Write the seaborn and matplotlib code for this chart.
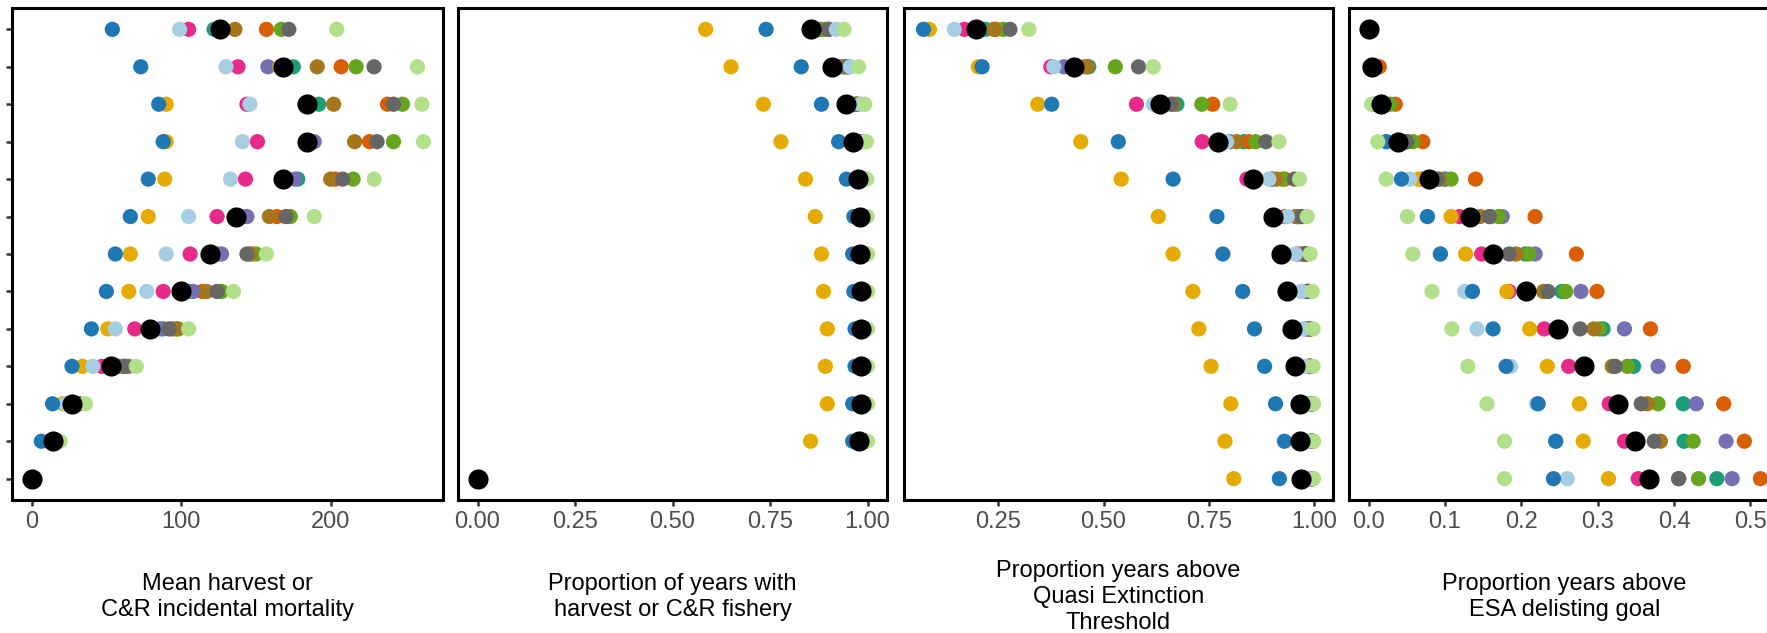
import numpy as np
import pandas as pd
import seaborn as sns
from matplotlib import pyplot as plt

sns.set_style("white")
plt.rcParams['font.family'] = ['Liberation Sans', 'DejaVu Sans']

# one row per scenario (top to bottom), columns follow `series`
series = ["teal", "orange", "purple", "pink", "green", "gold",
          "brown", "gray", "lightblue", "blue", "lightgreen"]
colors = ["#1b9e77", "#d95f02", "#7570b3", "#e7298a", "#66a61e", "#e6ab02",
          "#a6761d", "#666666", "#a6cee3", "#1f78b4", "#b2df8a"]
rows = list(range(13))

harvest = [
    [122, 157, 124, 105, 167, 125, 136, 172, 99, 54, 204],
    [175, 207, 158, 138, 217, 166, 191, 229, 130, 73, 258],
    [192, 238, 183, 144, 248, 90, 202, 242, 146, 85, 261],
    [185, 226, 189, 151, 242, 90, 216, 231, 141, 88, 262],
    [178, 203, 176, 143, 215, 89, 200, 208, 133, 78, 229],
    [140, 164, 144, 124, 173, 78, 159, 170, 105, 66, 189],
    [125, 147, 127, 106, 150, 66, 146, 144, 90, 56, 157],
    [105, 114, 108, 88, 127, 65, 117, 124, 77, 50, 135],
    [88, 94, 86, 69, 98, 51, 97, 92, 56, 40, 105],
    [58, 62, 57, 47, 65, 34, 61, 63, 41, 27, 70],
    [30, 31, 29, 24, 32, 21, 31, 31, 23, 14, 36],
    [16, 16, 15, 14, 17, 12, 16, 16, 12, 6.5, 19],
    [0, 0, 0, 0, 0, 0, 0, 0, 0, 0, 0],
]
harvest_mean = [126, 168, 184, 184, 168, 137, 119, 100, 79, 53, 27, 14, 0]

fishery = [
    [0.88, 0.90, 0.87, 0.86, 0.89, 0.585, 0.87, 0.90, 0.92, 0.74, 0.94],
    [0.93, 0.94, 0.92, 0.92, 0.95, 0.65, 0.94, 0.95, 0.956, 0.83, 0.977],
    [0.96, 0.97, 0.95, 0.95, 0.975, 0.733, 0.97, 0.975, 0.982, 0.882, 0.993],
    [0.975, 0.98, 0.97, 0.97, 0.985, 0.778, 0.98, 0.985, 0.99, 0.926, 0.997],
    [0.985, 0.99, 0.98, 0.98, 0.99, 0.841, 0.99, 0.99, 0.993, 0.946, 0.998],
    [0.99, 0.99, 0.99, 0.99, 0.995, 0.866, 0.99, 0.995, 0.995, 0.965, 0.999],
    [0.99, 0.995, 0.99, 0.99, 0.995, 0.882, 0.995, 0.995, 0.997, 0.962, 1.0],
    [0.99, 0.995, 0.99, 0.99, 0.995, 0.887, 0.995, 0.995, 0.997, 0.965, 1.0],
    [0.995, 0.995, 0.99, 0.99, 0.995, 0.897, 0.995, 0.995, 0.997, 0.968, 1.0],
    [0.995, 0.995, 0.99, 0.99, 0.995, 0.892, 0.995, 0.995, 0.997, 0.968, 1.0],
    [0.995, 0.995, 0.99, 0.99, 0.995, 0.897, 0.995, 0.995, 0.997, 0.962, 1.0],
    [0.99, 0.995, 0.99, 0.99, 0.995, 0.854, 0.995, 0.995, 0.997, 0.962, 1.0],
    [0, 0, 0, 0, 0, 0, 0, 0, 0, 0, 0],
]
fishery_mean = [0.854, 0.908, 0.946, 0.964, 0.975, 0.981, 0.982, 0.983,
                0.984, 0.984, 0.983, 0.979, 0]

qet = [
    [0.22, 0.245, 0.20, 0.17, 0.262, 0.087, 0.24, 0.278, 0.146, 0.073, 0.323],
    [0.465, 0.455, 0.406, 0.375, 0.528, 0.203, 0.461, 0.583, 0.382, 0.212, 0.618],
    [0.674, 0.759, 0.625, 0.578, 0.733, 0.344, 0.665, 0.66, 0.618, 0.377, 0.80],
    [0.833, 0.845, 0.80, 0.734, 0.861, 0.446, 0.816, 0.885, 0.792, 0.535, 0.916],
    [0.90, 0.93, 0.90, 0.84, 0.924, 0.542, 0.91, 0.953, 0.892, 0.665, 0.965],
    [0.96, 0.965, 0.955, 0.93, 0.965, 0.63, 0.96, 0.97, 0.936, 0.769, 0.983],
    [0.975, 0.98, 0.97, 0.96, 0.98, 0.665, 0.975, 0.98, 0.955, 0.783, 0.99],
    [0.985, 0.985, 0.98, 0.97, 0.985, 0.712, 0.985, 0.985, 0.97, 0.83, 0.995],
    [0.99, 0.99, 0.985, 0.98, 0.99, 0.726, 0.99, 0.99, 0.975, 0.858, 0.997],
    [0.99, 0.99, 0.99, 0.985, 0.99, 0.755, 0.99, 0.99, 0.98, 0.882, 0.997],
    [0.995, 0.995, 0.99, 0.99, 0.995, 0.802, 0.995, 0.995, 0.985, 0.908, 0.998],
    [0.995, 0.995, 0.99, 0.99, 0.995, 0.788, 0.995, 0.995, 0.985, 0.929, 0.998],
    [0.995, 0.995, 0.99, 0.99, 0.995, 0.809, 0.995, 0.995, 0.985, 0.917, 0.998],
]
qet_mean = [0.198, 0.431, 0.634, 0.771, 0.854, 0.903, 0.920, 0.936,
            0.946, 0.955, 0.965, 0.967, 0.969]

esa = [
    [0, 0, 0, 0, 0, 0, 0, 0, 0, 0, 0],
    [0.003, 0.014, 0.003, 0.003, 0.004, 0.002, 0.003, 0.003, 0.002, 0.002, 0.001],
    [0.02, 0.035, 0.02, 0.015, 0.028, 0.012, 0.02, 0.02, 0.008, 0.006, 0.004],
    [0.05, 0.071, 0.05, 0.035, 0.058, 0.035, 0.048, 0.05, 0.025, 0.023, 0.012],
    [0.10, 0.14, 0.10, 0.07, 0.108, 0.065, 0.093, 0.09, 0.054, 0.043, 0.023],
    [0.16, 0.218, 0.175, 0.119, 0.17, 0.108, 0.146, 0.158, 0.077, 0.077, 0.051],
    [0.205, 0.272, 0.218, 0.148, 0.21, 0.127, 0.193, 0.184, 0.094, 0.094, 0.058],
    [0.253, 0.299, 0.278, 0.184, 0.258, 0.181, 0.229, 0.235, 0.126, 0.136, 0.083],
    [0.307, 0.369, 0.335, 0.23, 0.302, 0.211, 0.295, 0.277, 0.142, 0.163, 0.109],
    [0.347, 0.412, 0.379, 0.262, 0.339, 0.234, 0.319, 0.323, 0.186, 0.18, 0.13],
    [0.412, 0.465, 0.429, 0.315, 0.379, 0.276, 0.365, 0.357, 0.22, 0.222, 0.155],
    [0.413, 0.492, 0.468, 0.335, 0.425, 0.281, 0.382, 0.374, 0.245, 0.245, 0.178],
    [0.456, 0.513, 0.476, 0.353, 0.432, 0.314, 0.406, 0.406, 0.26, 0.242, 0.178],
]
esa_mean = [0, 0.004, 0.016, 0.038, 0.079, 0.133, 0.163, 0.206,
            0.248, 0.282, 0.326, 0.349, 0.367]

labels = ["Mean harvest or\nC&R incidental mortality",
          "Proportion of years with\nharvest or C&R fishery",
          "Proportion years above\nQuasi Extinction\nThreshold",
          "Proportion years above\nESA delisting goal"]
xticks = [[0, 100, 200],
          [0, 0.25, 0.5, 0.75, 1.0],
          [0.25, 0.5, 0.75, 1.0],
          [0, 0.1, 0.2, 0.3, 0.4, 0.5]]
xticklabels = [["0", "100", "200"],
               ["0.00", "0.25", "0.50", "0.75", "1.00"],
               ["0.25", "0.50", "0.75", "1.00"],
               ["0.0", "0.1", "0.2", "0.3", "0.4", "0.5"]]

panels = [(harvest, harvest_mean), (fishery, fishery_mean),
          (qet, qet_mean), (esa, esa_mean)]

fig = plt.figure(figsize=(17.67, 6.33), dpi=100)
W, H = 1767.0, 633.0
# axes boxes in pixels: left, right (top 8, bottom 500)
boxes = [(12, 443), (458, 887), (904, 1333), (1349, 1780)]

for i, (vals, mean) in enumerate(panels):
    l, r = boxes[i]
    ax = fig.add_axes([l / W, 1 - 500 / H, (r - l) / W, 492 / H])

    df = pd.DataFrame(vals, columns=series)
    df["row"] = rows
    df = df.melt(id_vars="row", var_name="series", value_name="value")
    # draw series in palette order so later ones sit on top
    df["series"] = pd.Categorical(df["series"], categories=series, ordered=True)
    df = df.sort_values(["series", "row"])

    sns.scatterplot(data=df, x="value", y="row", hue="series",
                    hue_order=series, palette=colors, s=120, linewidth=0,
                    legend=False, ax=ax, zorder=2)
    sns.scatterplot(x=mean, y=rows, color="black", s=210, linewidth=0,
                    ax=ax, zorder=3)

    ax.margins(x=0.05)
    ax.set_ylim(12.57, -0.57)
    ax.set_xticks(xticks[i])
    ax.set_xticklabels(xticklabels[i])
    ax.set_xlabel(None)
    ax.set_ylabel(None)
    if i == 0:
        ax.set_yticks(rows)
        ax.set_yticklabels([])
        ax.tick_params(axis="y", left=True, length=4, width=1.8,
                       color="#333333")
    else:
        ax.set_yticks([])
    ax.tick_params(axis="x", bottom=True, length=4, width=1.8,
                   color="#333333", labelsize=17, labelcolor="#4d4d4d", pad=4)
    for s in ax.spines.values():
        s.set_color("black")
        s.set_linewidth(2.2)

    fig.text((l + r) / 2 / W, 1 - 597 / H, labels[i], ha="center",
             va="center", fontsize=17, linespacing=1.25, color="black")

plt.savefig("out.png", dpi=100)
